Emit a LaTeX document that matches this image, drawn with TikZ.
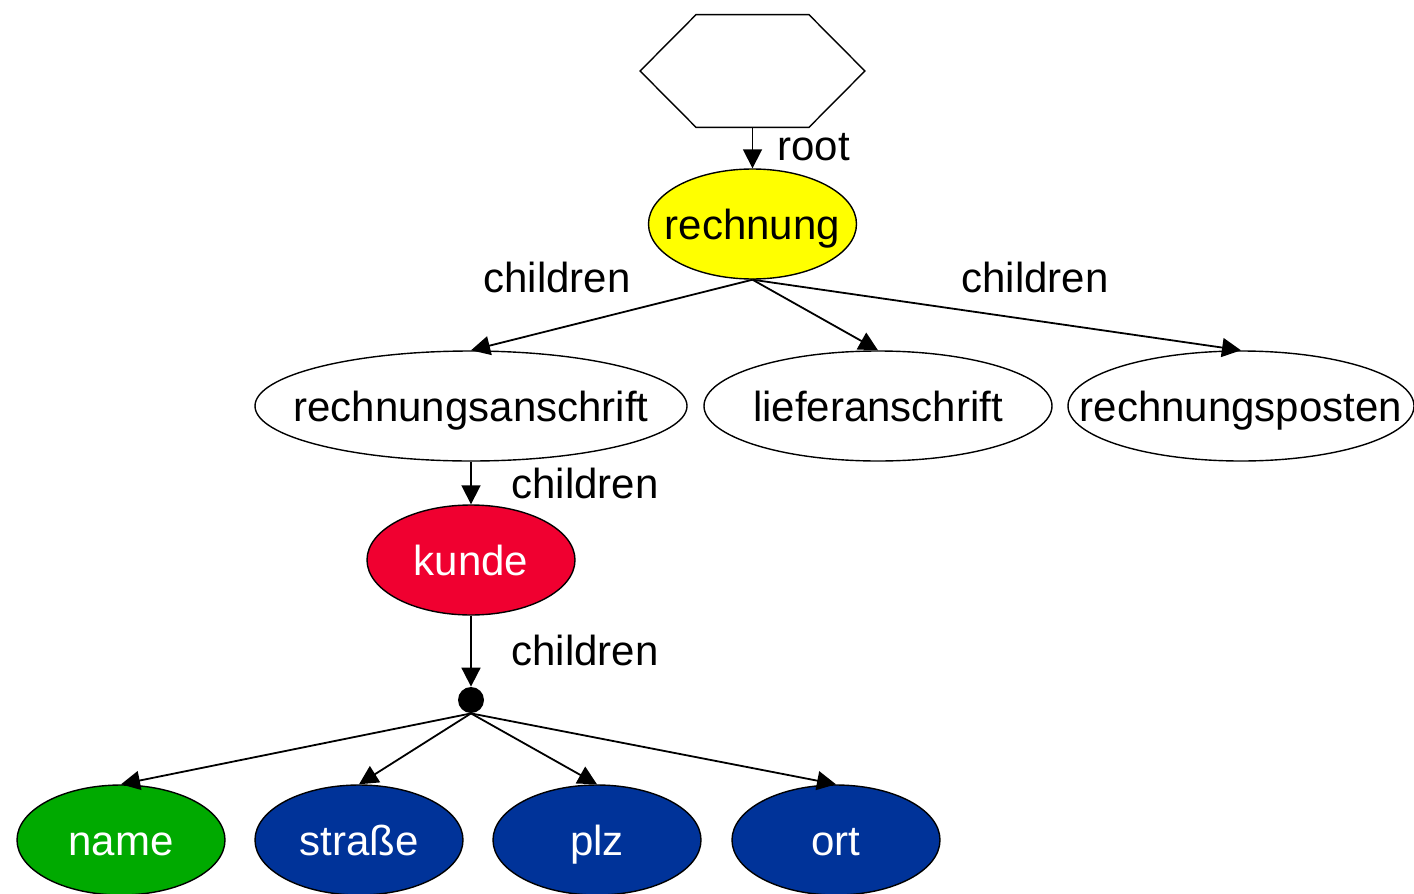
\documentclass[tikz,border=0pt]{standalone}
\usepackage{fontspec}
\setmainfont{Liberation Sans}
\usetikzlibrary{arrows.meta,shapes.geometric}
\definecolor{cyellow}{RGB}{255,255,0}
\definecolor{cred}{RGB}{240,0,48}
\definecolor{cgreen}{RGB}{0,170,0}
\definecolor{cblue}{RGB}{0,51,153}
\newcommand{\zb}[1]{\makebox[0pt]{#1}}
\tikzset{
  ell/.style={ellipse,draw=black,line width=0.7pt,minimum width=#1,minimum height=55pt,inner sep=0pt,font=\fontsize{21}{24}\selectfont,text height=17pt,text depth=2pt},
  ell/.default=104pt,
  conn/.style={line width=0.9pt,-{Triangle[length=9.5pt,width=9.5pt]}},
  lbl/.style={font=\fontsize{21}{24}\selectfont,inner sep=0pt}
}
\begin{document}
\begin{tikzpicture}[x=0.5pt,y=-0.5pt]
\useasboundingbox (0,0) rectangle (1414,894);
% hexagon
\node[minimum width=112pt,minimum height=56pt,inner sep=0pt] (hex) at (752.5,71) {};
\draw[line width=0.7pt] (hex.west) -- ([xshift=28pt]hex.north west) -- ([xshift=-28pt]hex.north east) -- (hex.east) -- ([xshift=-28pt]hex.south east) -- ([xshift=28pt]hex.south west) -- cycle;
\node[ell,fill=cyellow] (rech) at (752.5,224) {\zb{rechnung}};
\node[ell=216pt,fill=white] (ra) at (471,406) {\zb{rechnungsanschrift}};
\node[ell=174pt,fill=white] (la) at (878,406) {\zb{lieferanschrift}};
\node[ell=173pt,fill=white] (rp) at (1241,406) {\zb{rechnungsposten}};
\node[ell,fill=cred,text=white] (kunde) at (471,560) {\zb{kunde}};
\node[circle,fill=black,minimum size=13pt,inner sep=0pt] (dot) at (471,700) {};
\node[ell,fill=cgreen,text=white] (name) at (121,840) {\zb{name}};
\node[ell,fill=cblue,text=white] (strasse) at (359,840) {\zb{straße}};
\node[ell,fill=cblue,text=white] (plz) at (597,840) {\zb{plz}};
\node[ell,fill=cblue,text=white] (ort) at (836,840) {\zb{ort}};
% edges
\draw[conn] (hex.south) -- (rech.north);
\node[lbl,anchor=west] (lroot) at (777,147) {root};
\draw[conn] (rech.south) -- (ra.north);
\draw[conn] (rech.south) -- (la.north);
\draw[conn] (rech.south) -- (rp.north);
\node[lbl] (lc1) at (557,277) {children};
\node[lbl] (lc2) at (1035,277) {children};
\draw[conn] (ra.south) -- (kunde.north);
\node[lbl] (lc3) at (585,483) {children};
\draw[conn] (kunde.south) -- (dot.north);
\node[lbl] (lc4) at (585,650) {children};
\draw[conn] (dot.south) -- (name.north);
\draw[conn] (dot.south) -- (strasse.north);
\draw[conn] (dot.south) -- (plz.north);
\draw[conn] (dot.south) -- (ort.north);
\end{tikzpicture}
\end{document}
